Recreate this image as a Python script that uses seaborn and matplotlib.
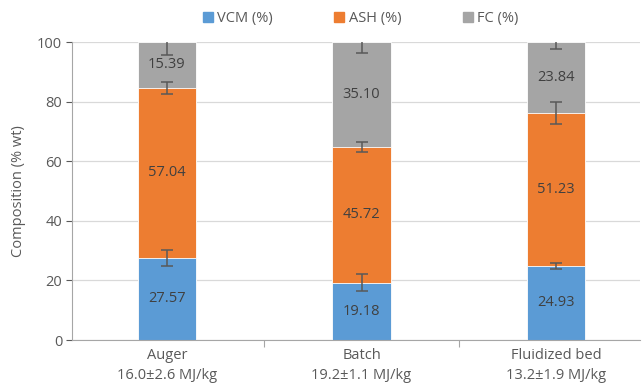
import matplotlib
matplotlib.use("Agg")
import matplotlib.pyplot as plt
import seaborn as sns
import pandas as pd
import numpy as np

categories = ["Auger\n16.0±2.6 MJ/kg", "Batch\n19.2±1.1 MJ/kg", "Fluidized bed\n13.2±1.9 MJ/kg"]
vcm = [27.57, 19.18, 24.93]
ash = [57.04, 45.72, 51.23]
fc = [15.39, 35.10, 23.84]
vcm_err = [2.75, 2.9, 1.0]
ash_err = [1.9, 1.7, 3.6]
fc_err = [4.4, 3.8, 2.4]

series = ["VCM (%)", "ASH (%)", "FC (%)"]
colors = ["#5B9BD5", "#ED7D31", "#A5A5A5"]

sns.set_theme(style="white")
plt.rcParams["font.family"] = ["Open Sans", "DejaVu Sans"]

fig = plt.figure(figsize=(6.44, 3.86), dpi=100)
ax = fig.add_axes([72 / 644, 46 / 386, (640 - 72) / 644, (340 - 42) / 386])

vals = np.array([vcm, ash, fc])
errs = np.array([vcm_err, ash_err, fc_err])
cum = np.cumsum(vals, axis=0)
bottoms = cum - vals

# stacked bars: draw cumulative totals from top layer down
for i in [2, 1, 0]:
    df = pd.DataFrame({"cat": categories, "val": cum[i]})
    sns.barplot(data=df, x="cat", y="val", color=colors[i], width=0.3,
                edgecolor="white", linewidth=0.6, ax=ax, zorder=2,
                saturation=1)

x = np.arange(len(categories))
for i in range(3):
    ax.errorbar(x, cum[i], yerr=errs[i], fmt="none", ecolor="#595959",
                elinewidth=1.1, capsize=4, capthick=1.1, zorder=4)
    for j in range(3):
        ax.text(x[j], bottoms[i][j] + vals[i][j] / 2, f"{vals[i][j]:.2f}",
                ha="center", va="center", fontsize=10.5, color="#404040", zorder=5)

ax.set_ylim(0, 100)
ax.set_xlim(-0.487, 2.43)
ax.set_yticks([0, 20, 40, 60, 80, 100])
ax.yaxis.grid(True, color="#D9D9D9", linewidth=0.9, zorder=0)
ax.set_axisbelow(True)
ax.set_xlabel("")
ax.set_ylabel("Composition (% wt)", fontsize=10.5, color="#595959", labelpad=8)
ax.tick_params(axis="y", colors="#595959", labelsize=10.5, length=4, width=0.8,
               left=True, direction="out", pad=3)
ax.tick_params(axis="x", colors="#595959", labelsize=10.5, length=0, pad=6)
ax.set_xticks([0.5, 1.5], minor=True)
ax.tick_params(axis="x", which="minor", length=5, width=0.8, color="#A6A6A6", bottom=True)
for lbl in ax.get_xticklabels():
    lbl.set_linespacing(1.4)

for s in ["top", "right"]:
    ax.spines[s].set_visible(False)
ax.spines["left"].set_color("#A6A6A6")
ax.spines["bottom"].set_color("#A6A6A6")
ax.spines["left"].set_linewidth(0.8)
ax.spines["bottom"].set_linewidth(0.8)

handles = [plt.Rectangle((0, 0), 1, 1, color=c) for c in colors]
fig.legend(handles, series, loc="center", bbox_to_anchor=(0.56, 0.952), ncol=3,
           frameon=False, fontsize=10.5, handlelength=0.7, handleheight=0.7,
           columnspacing=4.2, handletextpad=0.3, labelcolor="#595959")

fig.savefig("out.png", dpi=100)
